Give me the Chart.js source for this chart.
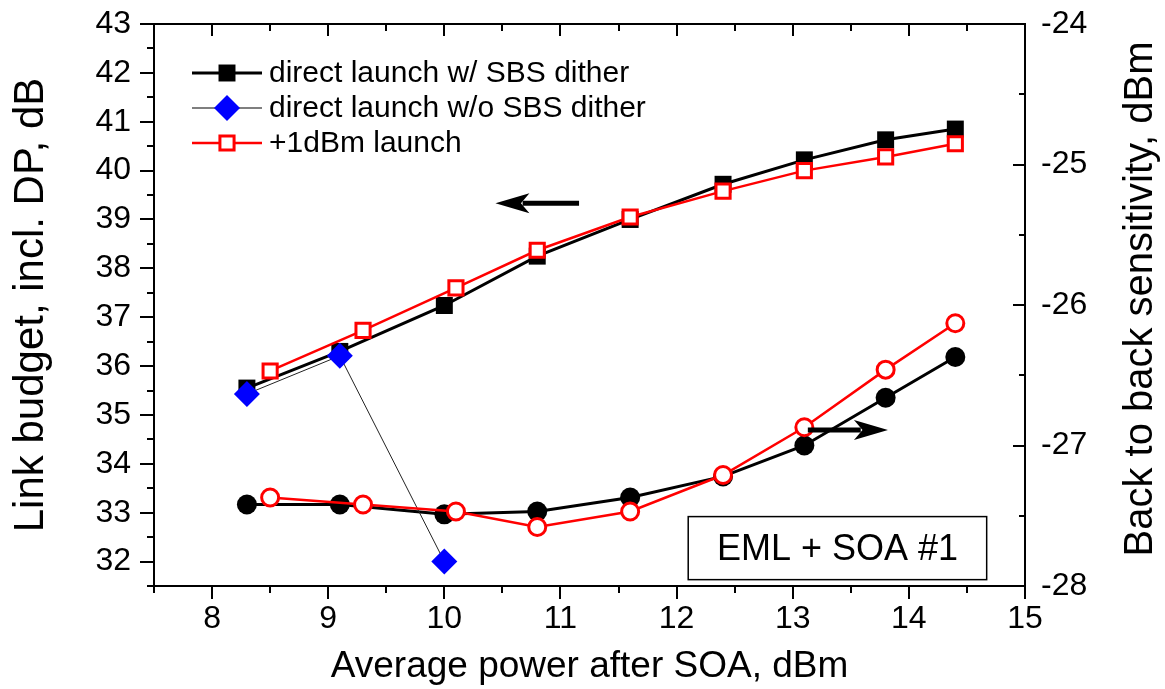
<!DOCTYPE html>
<html>
<head>
<meta charset="utf-8">
<script src="https://cdn.jsdelivr.net/npm/chart.js@4.4.1/dist/chart.umd.min.js"></script>
<style>
  html, body { margin: 0; padding: 0; background: #fff; }
  #wrap { width: 1165px; height: 689px; }
</style>
</head>
<body>
<div id="wrap"><canvas id="chart" width="1165" height="689"></canvas></div>
<script>
const FONT = "'Liberation Sans', Arial, sans-serif";

// x values (average power after SOA, dBm)
const powerSBS = [8.3, 9.1, 10.0, 10.8, 11.6, 12.4, 13.1, 13.8, 14.4];
const powerNoDither = [8.3, 9.1, 10.0];
const powerPlus1 = [8.5, 9.3, 10.1, 10.8, 11.6, 12.4, 13.1, 13.8, 14.4];

// link budget, left axis (dB)
const budgetSBS = [35.55, 36.3, 37.24, 38.25, 39.0, 39.72, 40.22, 40.63, 40.85];
const budgetNoDither = [35.43, 36.21, 32.0];
const budgetPlus1 = [35.9, 36.73, 37.6, 38.37, 39.05, 39.58, 40.0, 40.28, 40.55];

// back to back sensitivity, right axis (dBm)
const sensSBS = [-27.42, -27.42, -27.49, -27.47, -27.37, -27.22, -27.0, -26.66, -26.37];
const sensPlus1 = [-27.37, -27.42, -27.47, -27.58, -27.47, -27.21, -26.87, -26.46, -26.13];

const xTicks = [8, 9, 10, 11, 12, 13, 14, 15];
const leftTicks = [32, 33, 34, 35, 36, 37, 38, 39, 40, 41, 42, 43];
const rightTicks = [-28, -27, -26, -25, -24];

const legendNames = ["direct launch w/ SBS dither", "direct launch w/o SBS dither", "+1dBm launch"];
const rightTitle = "Back to back sensitivity, dBm";

const pts = (xs, ys) => xs.map((x, i) => ({ x: x, y: ys[i] }));

const datasets = [
    {
        label: legendNames[0], data: pts(powerSBS, budgetSBS), yAxisID: "y",
        borderColor: "#000", borderWidth: 3, backgroundColor: "#000",
        pointStyle: "rect", pointRadius: 12, pointBorderWidth: 0, order: 4,
    },
    {
        label: legendNames[1], data: pts(powerNoDither, budgetNoDither), yAxisID: "y",
        borderColor: "#222", borderWidth: 1, backgroundColor: "#0000ff",
        pointBorderColor: "#0000ff", pointBackgroundColor: "#0000ff",
        pointStyle: "rectRot", pointRadius: 13, pointBorderWidth: 0, order: 2,
    },
    {
        label: legendNames[2], data: pts(powerPlus1, budgetPlus1), yAxisID: "y",
        borderColor: "#ff0000", borderWidth: 2.5, backgroundColor: "#fff",
        pointBorderColor: "#ff0000", pointBackgroundColor: "#fff",
        pointStyle: "rect", pointRadius: 10, pointBorderWidth: 3, order: 1,
    },
    {
        label: "sens w/ SBS", data: pts(powerSBS, sensSBS), yAxisID: "y2",
        borderColor: "#000", borderWidth: 3, backgroundColor: "#000",
        pointStyle: "circle", pointRadius: 10, pointBorderWidth: 0, order: 3,
    },
    {
        label: "sens +1dBm", data: pts(powerPlus1, sensPlus1), yAxisID: "y2",
        borderColor: "#ff0000", borderWidth: 2.5, backgroundColor: "#fff",
        pointBorderColor: "#ff0000", pointBackgroundColor: "#fff",
        pointStyle: "circle", pointRadius: 8.5, pointBorderWidth: 3, order: 0,
    },
];

// frame with Origin-style ticks (left/bottom outward, top/right inward)
const framePlugin = {
    id: "frame",
    afterDraw(chart) {
        const { ctx, chartArea: a, scales } = chart;
        const sx = scales.x, sl = scales.y, sr = scales.y2;
        ctx.save();
        ctx.strokeStyle = "#000";
        ctx.lineWidth = 2;
        ctx.strokeRect(a.left, a.top, a.right - a.left, a.bottom - a.top);
        ctx.beginPath();
        for (let v = 7.5; v <= 15.001; v += 0.5) {
            const px = Math.round(sx.getPixelForValue(v));
            const major = Math.abs(v - Math.round(v)) < 1e-6;
            const len = major ? 13 : 7;
            ctx.moveTo(px, a.bottom); ctx.lineTo(px, a.bottom + len);
            ctx.moveTo(px, a.top); ctx.lineTo(px, a.top + (major ? 12 : 7));
        }
        for (let v = 31.5; v <= 43.001; v += 0.5) {
            const py = Math.round(sl.getPixelForValue(v));
            const major = Math.abs(v - Math.round(v)) < 1e-6;
            ctx.moveTo(a.left, py); ctx.lineTo(a.left - (major ? 14 : 7), py);
        }
        for (let v = -28; v <= -23.999; v += 0.5) {
            const py = Math.round(sr.getPixelForValue(v));
            const major = Math.abs(v - Math.round(v)) < 1e-6;
            ctx.moveTo(a.right, py); ctx.lineTo(a.right - (major ? 12 : 6), py);
        }
        ctx.stroke();

        // right axis title, reading bottom to top like the left one
        ctx.fillStyle = "#000";
        ctx.font = "40px " + FONT;
        ctx.textAlign = "center";
        ctx.textBaseline = "middle";
        ctx.translate(sr.right - 24, (a.top + a.bottom) / 2 - 6);
        ctx.rotate(-Math.PI / 2);
        ctx.fillText(rightTitle, 0, 0);
        ctx.restore();
    },
};

const arrow = (ctx, x1, y1, x2, y2) => {
    const dir = Math.sign(x2 - x1);
    const head = 34;
    ctx.beginPath();
    ctx.lineWidth = 5;
    ctx.moveTo(x1, y1);
    ctx.lineTo(x2 - dir * head * 0.8, y2);
    ctx.stroke();
    ctx.beginPath();
    ctx.moveTo(x2, y2);
    ctx.lineTo(x2 - dir * head, y2 - 10);
    ctx.lineTo(x2 - dir * head * 0.75, y2);
    ctx.lineTo(x2 - dir * head, y2 + 10);
    ctx.closePath();
    ctx.fill();
};

const notesPlugin = {
    id: "notes",
    afterDraw(chart) {
        const { ctx, chartArea: a, scales } = chart;
        const sx = scales.x, sl = scales.y, sr = scales.y2;
        const ds = chart.data.datasets;
        ctx.save();
        ctx.fillStyle = "#000";
        ctx.strokeStyle = "#000";

        // axis arrows
        arrow(ctx, sx.getPixelForValue(11.16), sl.getPixelForValue(39.33),
                   sx.getPixelForValue(10.44), sl.getPixelForValue(39.33));
        arrow(ctx, sx.getPixelForValue(13.13), sr.getPixelForValue(-26.89),
                   sx.getPixelForValue(13.82), sr.getPixelForValue(-26.89));

        // label box
        const bx1 = sx.getPixelForValue(12.1), bx2 = sx.getPixelForValue(14.67);
        const by1 = sl.getPixelForValue(32.92), by2 = sl.getPixelForValue(31.63);
        ctx.fillStyle = "#fff";
        ctx.fillRect(bx1, by1, bx2 - bx1, by2 - by1);
        ctx.lineWidth = 1.5;
        ctx.strokeRect(bx1, by1, bx2 - bx1, by2 - by1);
        ctx.fillStyle = "#000";
        ctx.font = "36px " + FONT;
        ctx.textAlign = "center";
        ctx.textBaseline = "middle";
        ctx.fillText("EML + SOA #1", (bx1 + bx2) / 2, (by1 + by2) / 2 + 2);

        // legend
        const lx = a.left + 38;
        ctx.font = "30px " + FONT;
        ctx.textAlign = "left";
        for (let i = 0; i < 3; i++) {
            const d = ds[i];
            const ly = a.top + 49 + i * 35;
            ctx.beginPath();
            ctx.strokeStyle = i === 1 ? "#555" : d.borderColor;
            ctx.lineWidth = i === 1 ? 1.5 : d.borderWidth;
            ctx.moveTo(lx, ly); ctx.lineTo(lx + 70, ly);
            ctx.stroke();
            ctx.fillStyle = d.pointBackgroundColor || d.backgroundColor;
            ctx.strokeStyle = d.pointBorderColor || d.borderColor;
            ctx.lineWidth = d.pointBorderWidth;
            Chart.helpers.drawPoint(ctx, {
                pointStyle: d.pointStyle, radius: d.pointRadius,
                borderWidth: d.pointBorderWidth, rotation: 0,
            }, lx + 35, ly);
            ctx.fillStyle = "#000";
            ctx.fillText(d.label, lx + 77, ly + 1);
        }
        ctx.restore();
    },
};

// invisible grid: only used so the tick length spaces the labels from the axis
const hiddenGrid = (len) => ({
    display: true, drawOnChartArea: false, drawTicks: true,
    tickLength: len, color: "rgba(0,0,0,0)",
});

new Chart(document.getElementById("chart"), {
    type: "line",
    data: { datasets: datasets },
    plugins: [framePlugin, notesPlugin],
    options: {
        responsive: false,
        animation: false,
        layout: { padding: { top: 24, left: 0, right: 0, bottom: 0 } },
        plugins: { legend: { display: false }, tooltip: { enabled: false } },
        elements: { line: { tension: 0 } },
        scales: {
            x: {
                type: "linear", min: 7.5, max: 15,
                afterFit: (s) => { s.height = 103; },
                afterBuildTicks: (s) => { s.ticks = xTicks.map((v) => ({ value: v })); },
                grid: hiddenGrid(11),
                border: { display: false },
                ticks: {
                    color: "#000", padding: 3, maxRotation: 0, autoSkip: false,
                    font: { family: FONT, size: 32 },
                    callback: (v) => String(v),
                },
                title: {
                    display: true, text: "Average power after SOA, dBm", color: "#000",
                    font: { family: FONT, size: 37 }, padding: { top: 0, bottom: 0 },
                },
            },
            y: {
                type: "linear", position: "left", min: 31.5, max: 43,
                afterFit: (s) => { s.width = 154; },
                afterBuildTicks: (s) => { s.ticks = leftTicks.map((v) => ({ value: v })); },
                grid: hiddenGrid(20),
                border: { display: false },
                ticks: {
                    color: "#000", padding: 3, autoSkip: false,
                    font: { family: FONT, size: 32 },
                    callback: (v) => String(v),
                },
                title: {
                    display: true, text: "Link budget, incl. DP, dB", color: "#000",
                    font: { family: FONT, size: 42 }, padding: { top: 6, bottom: 0 },
                },
            },
            y2: {
                type: "linear", position: "right", min: -28, max: -24,
                afterFit: (s) => { s.width = 140; },
                afterBuildTicks: (s) => { s.ticks = rightTicks.map((v) => ({ value: v })); },
                grid: hiddenGrid(13),
                border: { display: false },
                ticks: {
                    color: "#000", padding: 3, autoSkip: false,
                    font: { family: FONT, size: 32 },
                    callback: (v) => String(v),
                },
                title: { display: false },
            },
        },
    },
});
</script>
</body>
</html>
